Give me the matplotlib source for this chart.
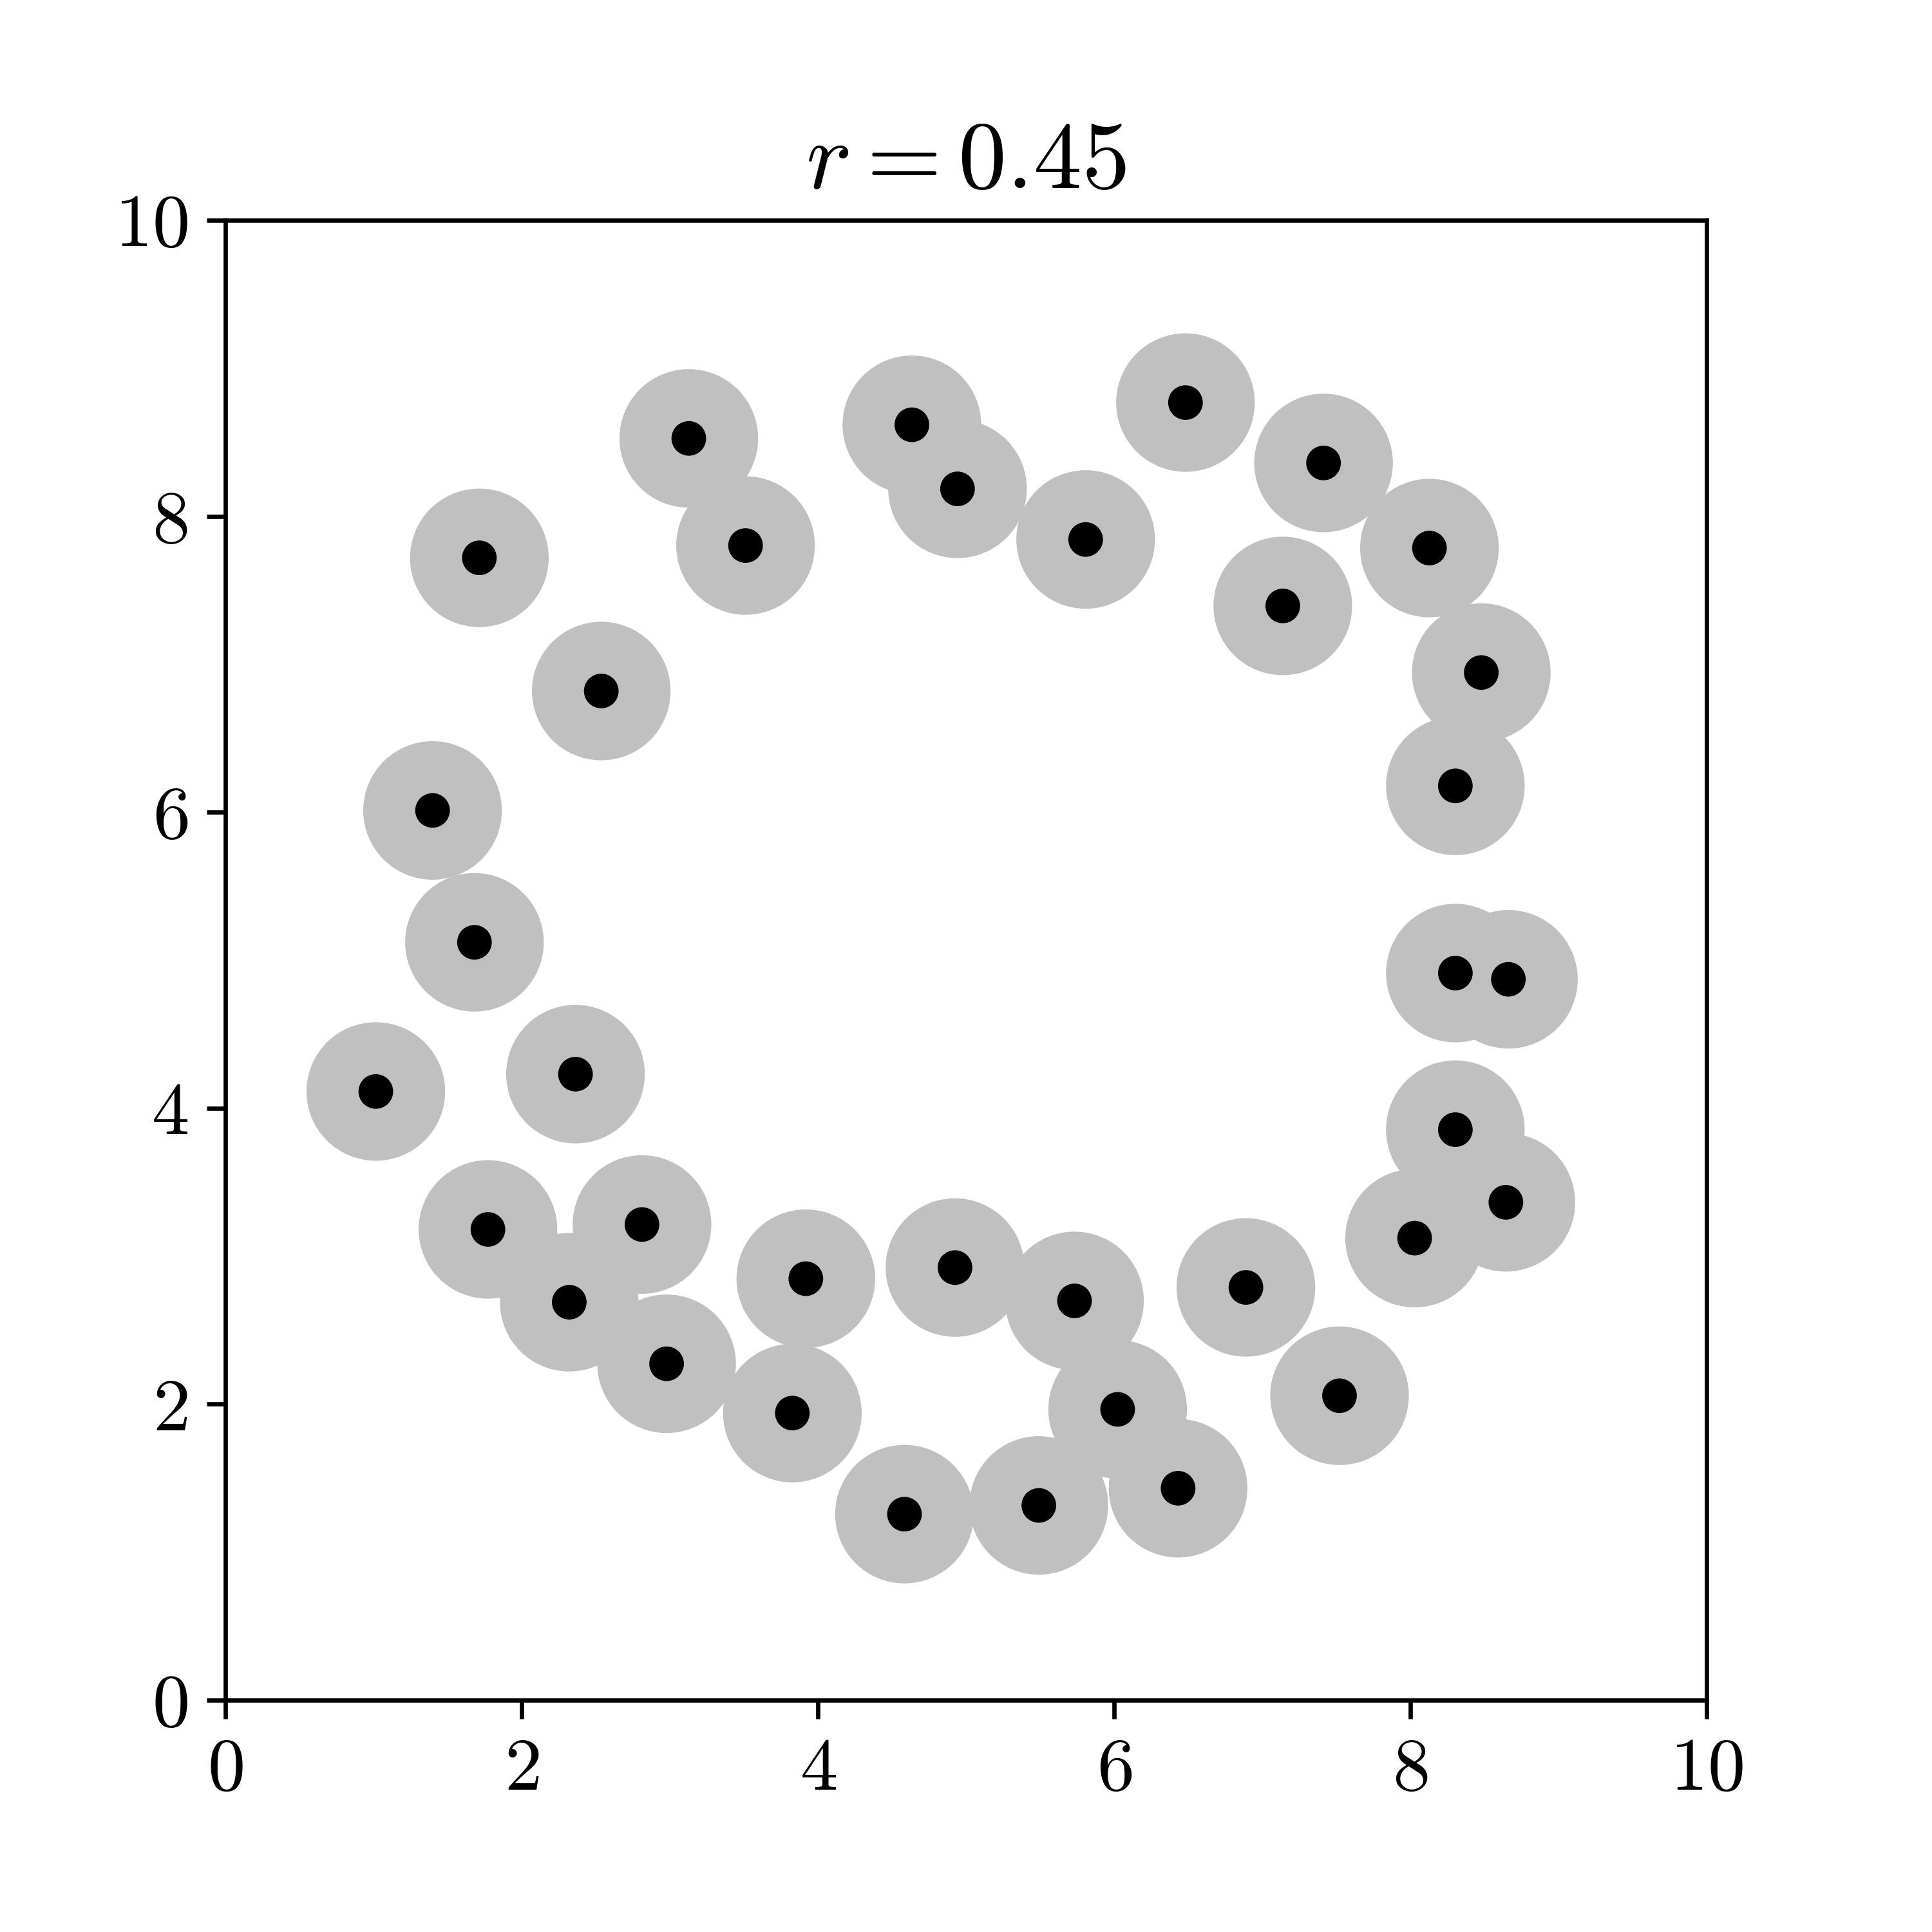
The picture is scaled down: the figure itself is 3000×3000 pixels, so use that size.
import matplotlib
matplotlib.use("Agg")
from matplotlib import pyplot
from matplotlib.patches import Circle
from matplotlib.ticker import FuncFormatter

pyplot.rcParams["mathtext.fontset"] = "cm"
pyplot.rcParams["font.family"] = "serif"
pyplot.rcParams["font.serif"] = ["cmr10", "DejaVu Serif"]
pyplot.rcParams["axes.formatter.use_mathtext"] = True

R = 0.45

xs = [1.015, 1.398, 1.681, 1.714, 1.772, 2.321, 2.363, 2.537, 2.812, 2.978,
      3.128, 3.511, 3.827, 3.918, 4.584, 4.634, 4.925, 4.942, 5.491, 5.732,
      5.807, 6.023, 6.431, 6.481, 6.889, 7.138, 7.413, 7.521, 8.028, 8.128,
      8.303, 8.303, 8.303, 8.478, 8.644, 8.661]
ys = [4.113, 6.012, 5.121, 7.719, 3.181, 2.689, 4.230, 6.819, 3.214, 2.273,
      8.526, 7.802, 1.940, 2.848, 1.257, 8.618, 2.923, 8.185, 1.316, 2.698,
      7.843, 1.965, 1.432, 8.768, 2.789, 7.394, 8.360, 2.057, 3.122, 7.785,
      6.178, 4.913, 3.855, 6.944, 3.364, 4.871]
ticks = [0, 2, 4, 6, 8, 10]

fig = pyplot.figure(figsize=(5, 5), dpi=600)
ax = fig.add_axes([0.1167, 0.120, 0.7667, 0.766])

# discs of radius r (drawn slightly larger to match the rendered size)
for x, y in zip(xs, ys):
    ax.add_patch(Circle((x, y), 0.468, facecolor="#c0c0c0", edgecolor="none", zorder=1))
for x, y in zip(xs, ys):
    ax.add_patch(Circle((x, y), 0.117, facecolor="black", edgecolor="none", zorder=2))

ax.set_xlim(0, 10)
ax.set_ylim(0, 10)
ax.set_xticks(ticks)
ax.set_yticks(ticks)
fmt = FuncFormatter(lambda v, p: "$%d$" % v)
ax.xaxis.set_major_formatter(fmt)
ax.yaxis.set_major_formatter(fmt)
ax.tick_params(labelsize=14)
ax.set_title(r"$r = %.2f$" % R, fontsize=18)

fig.savefig("out.png", dpi=600)
